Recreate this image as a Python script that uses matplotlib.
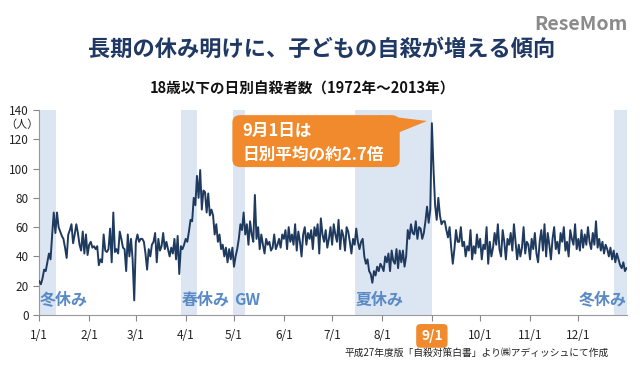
import matplotlib
matplotlib.use("Agg")
import matplotlib.pyplot as plt
from matplotlib.patches import FancyBboxPatch, Polygon
import numpy as np

plt.rcParams['font.family'] = ['Noto Sans CJK JP', 'DejaVu Sans']

# daily counts, 1/1 .. 12/31 (leap year, 366 days)
jan = [23, 21, 25, 31, 30, 36, 42, 38, 55, 70, 56, 70, 60, 57, 54, 52, 46, 39, 55, 58,
       62, 49, 55, 62, 56, 48, 44, 57, 42, 55, 41]
feb = [48, 50, 46, 47, 45, 47, 34, 38, 36, 55, 44, 43, 45, 59, 36, 70, 43, 45, 42, 57,
       52, 46, 45, 30, 55, 40, 52, 38, 10]
mar = [50, 55, 50, 52, 52, 50, 42, 31, 45, 40, 48, 50, 56, 36, 52, 44, 47, 56, 45, 50,
       45, 40, 46, 42, 52, 38, 54, 28, 47, 45, 48]
apr = [52, 50, 57, 65, 64, 80, 75, 95, 80, 99, 72, 85, 84, 70, 83, 68, 72, 68, 55, 62,
       50, 55, 45, 48, 40, 46, 36, 45, 38, 46]
may = [33, 40, 45, 52, 62, 58, 70, 55, 62, 48, 64, 55, 50, 82, 52, 60, 45, 55, 48, 42,
       52, 48, 50, 44, 46, 55, 45, 48, 52, 46, 55]
jun = [52, 58, 45, 60, 50, 55, 48, 62, 44, 57, 50, 40, 55, 60, 48, 56, 52, 58, 45, 60,
       54, 62, 42, 66, 55, 50, 58, 46, 52, 60]
jul = [48, 62, 55, 50, 65, 45, 58, 54, 44, 60, 57, 50, 42, 52, 48, 59, 50, 45, 50, 52,
       40, 35, 38, 30, 28, 22, 30, 27, 33, 30, 35]
aug = [33, 30, 40, 36, 42, 30, 44, 37, 35, 45, 32, 44, 36, 44, 33, 40, 58, 52, 62, 56,
       55, 64, 52, 60, 59, 52, 56, 64, 74, 63, 72]
sep = [131, 100, 75, 65, 80, 68, 62, 64, 64, 58, 53, 60, 46, 35, 45, 58, 50, 50, 60, 47,
       50, 40, 47, 44, 58, 38, 47, 42, 55, 46]
oct_ = [52, 38, 48, 45, 60, 35, 50, 40, 46, 56, 48, 62, 45, 40, 58, 50, 38, 52, 48, 56,
        44, 62, 50, 38, 48, 40, 46, 60, 42, 50, 48]
nov = [38, 52, 45, 56, 42, 36, 50, 58, 44, 62, 40, 56, 48, 38, 52, 60, 45, 50, 42, 56,
       50, 60, 44, 50, 40, 58, 52, 48, 62, 45]
dec = [52, 44, 58, 46, 55, 48, 60, 50, 45, 56, 48, 64, 46, 52, 44, 50, 42, 48, 45, 40,
       46, 38, 44, 36, 42, 38, 34, 32, 36, 30, 32]

months = [jan, feb, mar, apr, may, jun, jul, aug, sep, oct_, nov, dec]
month_labels = ['1/1', '2/1', '3/1', '4/1', '5/1', '6/1', '7/1', '8/1', '9/1', '10/1', '11/1', '12/1']

# holiday periods as (start day index, end day index, label)
holidays = [(0, 10.5, '冬休み'), (88, 98, '春休み'), (120.5, 128, 'GW'),
            (196, 244, '夏休み'), (357.5, 365, '冬休み')]

values = np.concatenate(months)
days = np.arange(len(values))
month_starts = np.cumsum([0] + [len(m) for m in months[:-1]])

fig = plt.figure(figsize=(6.4, 3.7), dpi=100)
ax = fig.add_axes([0.0614, 0.1486, 0.9176, 0.5541])

label_color = '#5a8ac6'
for s, e, name in holidays:
    ax.axvspan(s, e, ymin=0, ymax=1, color='#dce6f2', lw=0, zorder=0)
    if name == '冬休み' and s > 300:
        ax.text(e, 5, name, ha='right', va='bottom', color=label_color, fontsize=11.5, fontweight='bold')
    else:
        ax.text(s + 0.5, 5, name, ha='left', va='bottom', color=label_color, fontsize=11.5, fontweight='bold')

ax.plot(days, values, color='#1f3a5f', lw=1.4, zorder=3)

ax.set_xlim(0, 365)
ax.set_ylim(0, 140)
ax.set_yticks(np.arange(0, 141, 20))
ax.set_xticks(month_starts)
ax.set_xticklabels(month_labels)
ax.tick_params(axis='both', labelsize=8.5, colors='#888888', labelcolor='#222222', length=4)
ax.tick_params(axis='x', pad=6)
for sp in ['top', 'right']:
    ax.spines[sp].set_visible(False)
for sp in ['left', 'bottom']:
    ax.spines[sp].set_color('#999999')

# highlight the 9/1 tick label
lbl = ax.get_xticklabels()[8]
lbl.set_color('white')
lbl.set_fontweight('bold')
lbl.set_fontsize(10)
lbl.set_bbox(dict(boxstyle='round,pad=0.35,rounding_size=0.3', fc='#f08a2c', ec='none'))

fig.text(0.008, 0.664, '（人）', fontsize=8, color='#222222', ha='left', va='center')

# callout
ax.add_patch(FancyBboxPatch((120, 101), 104, 35.5, boxstyle='round,pad=0,rounding_size=5',
                            fc='#f08a2c', ec='none', zorder=4, clip_on=False))
ax.add_patch(Polygon([(211, 136.5), (222, 124), (241, 132.5)], closed=True,
                     fc='#f08a2c', ec='none', zorder=4, clip_on=False))
ax.text(126, 126, '9月1日は', color='white', fontsize=12, fontweight='bold', va='center', zorder=5)
ax.text(126, 109.5, '日別平均の約2.7倍', color='white', fontsize=12, fontweight='bold', va='center', zorder=5)

fig.text(0.503, 0.868, '長期の休み明けに、子どもの自殺が増える傾向', ha='center', va='center',
         fontsize=16, fontweight='bold', color='#1f3864')
fig.text(0.472, 0.762, '18歳以下の日別自殺者数（1972年～2013年）', ha='center', va='center',
         fontsize=10.5, fontweight='bold', color='#111111')
fig.text(0.98, 0.935, 'ReseMom', ha='right', va='center', fontsize=14, fontweight='bold', color='#8a8a8a')
fig.text(0.745, 0.045, '平成27年度版「自殺対策白書」より㈱アディッシュにて作成', ha='center', va='center',
         fontsize=7, color='#222222')

fig.savefig('out.png', dpi=100)
